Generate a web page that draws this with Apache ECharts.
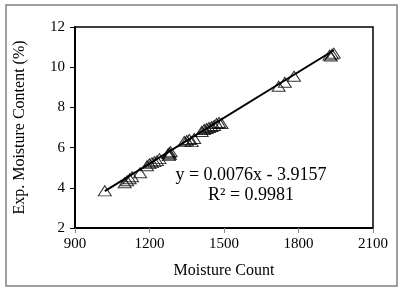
<!DOCTYPE html>
<html>
<head>
<meta charset="utf-8">
<script src="https://cdn.jsdelivr.net/npm/echarts@6/dist/echarts.min.js"></script>
<style>
html, body { margin: 0; padding: 0; background: #fff; }
#chart { width: 404px; height: 295px; }
</style>
</head>
<body>
<div id="chart"></div>
<script>
// moisture count readings and measured moisture content (%)
var counts = [1020, 1100, 1110, 1120, 1130, 1162, 1190, 1200, 1210, 1220, 1230, 1240,
              1275, 1278, 1280, 1282, 1285, 1340, 1350, 1360, 1370, 1380,
              1410, 1420, 1430, 1440, 1450, 1460, 1470, 1480, 1490,
              1720, 1745, 1782, 1925, 1930, 1935, 1942];
var moisture = [3.85, 4.25, 4.35, 4.45, 4.55, 4.75, 5.1, 5.2, 5.25, 5.3, 5.35, 5.45,
                5.7, 5.6, 5.75, 5.65, 5.8, 6.3, 6.35, 6.4, 6.3, 6.45,
                6.8, 6.9, 6.95, 7.0, 7.05, 7.1, 7.2, 7.25, 7.2,
                9.05, 9.25, 9.55, 10.6, 10.55, 10.65, 10.7];

// linear trendline reported on the chart
var slope = 0.0076;
var intercept = -3.9157;
var eqLabels = ['y = 0.0076x - 3.9157', 'R\u00b2 = 0.9981'];

var xMin = Math.min.apply(null, counts);
var xMax = Math.max.apply(null, counts);
var trend = [[xMin, slope * xMin + intercept], [xMax, slope * xMax + intercept]];

var chart = echarts.init(document.getElementById('chart'));
var font = 'Liberation Serif';

chart.setOption({
    animation: false,
    grid: {
        left: 75, right: 31, top: 27, bottom: 67,
        show: true, borderColor: '#000', borderWidth: 1.5
    },
    xAxis: {
        type: 'value', min: 900, max: 2100, interval: 300,
        name: 'Moisture Count', nameLocation: 'middle', nameGap: 35,
        nameTextStyle: { fontFamily: font, fontSize: 16, color: '#000' },
        axisLine: { lineStyle: { color: '#000', width: 2 } },
        axisTick: { length: 5, lineStyle: { color: '#888' } },
        axisLabel: { fontFamily: font, fontSize: 15, color: '#000', margin: 9,
                     formatter: function (v) { return String(v); } },
        splitLine: { show: false }
    },
    yAxis: {
        type: 'value', min: 2, max: 12, interval: 2,
        name: 'Exp. Moisture Content (%)', nameLocation: 'middle', nameGap: 47,
        nameTextStyle: { fontFamily: font, fontSize: 16, color: '#000' },
        axisLine: { lineStyle: { color: '#000', width: 2 } },
        axisTick: { length: 5, lineStyle: { color: '#000' } },
        axisLabel: { fontFamily: font, fontSize: 15, color: '#000', margin: 10 },
        splitLine: { show: false }
    },
    series: [{
        type: 'scatter',
        data: counts.map(function (c, i) { return [c, moisture[i]]; }),
        symbol: 'triangle',
        symbolSize: [13, 10],
        itemStyle: { color: 'rgba(255,255,255,0)', borderColor: '#000', borderWidth: 1 }
    }, {
        type: 'line',
        data: trend,
        symbol: 'none',
        lineStyle: { color: '#000', width: 2 },
        z: 3
    }],
    graphic: [{
        type: 'rect',
        shape: { x: 6, y: 5, width: 391, height: 281 },
        style: { fill: 'none', stroke: '#808080', lineWidth: 1.5 }
    }, {
        type: 'text', x: 251, y: 175,
        style: { text: eqLabels[0], font: '18px "Liberation Serif"', fill: '#000',
                 textAlign: 'center', textVerticalAlign: 'middle' }
    }, {
        type: 'text', x: 251, y: 195,
        style: { text: eqLabels[1], font: '18px "Liberation Serif"', fill: '#000',
                 textAlign: 'center', textVerticalAlign: 'middle' }
    }]
});
</script>
</body>
</html>
